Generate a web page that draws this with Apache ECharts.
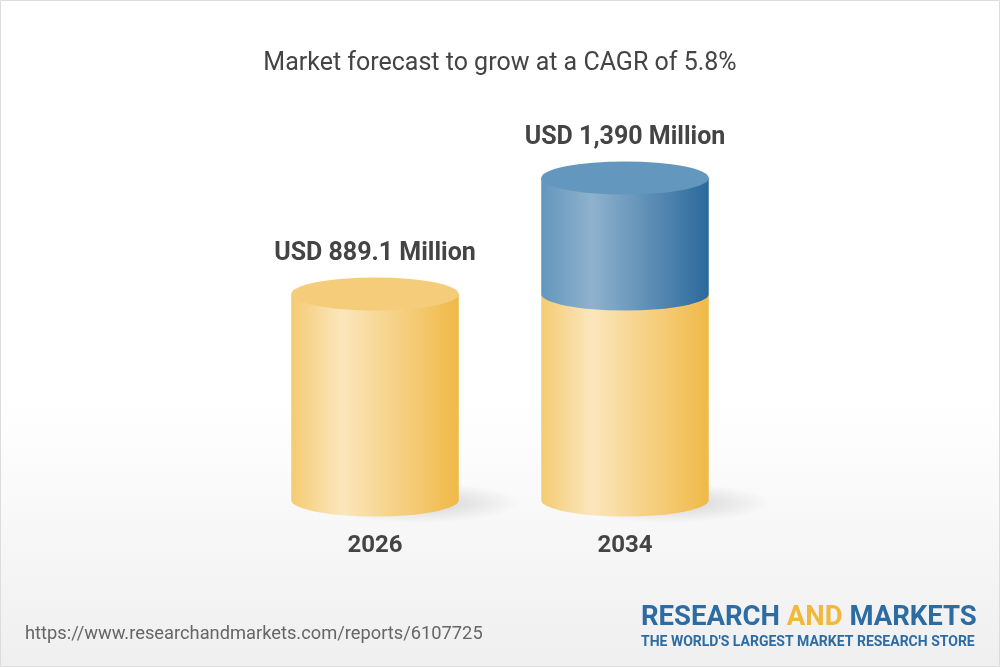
<!DOCTYPE html>
<html>
<head>
<meta charset="utf-8">
<script src="https://cdn.jsdelivr.net/npm/echarts@6/dist/echarts.min.js"></script>
<style>
  html, body { margin: 0; padding: 0; }
  #main { width: 1000px; height: 667px; }
</style>
</head>
<body>
<div id="main"></div>
<script>
// chart data
var years = ['2026', '2034'];
var baseValues = [889.1, 889.1];   // yellow part (2026 market size)
var totalValues = [889.1, 1390];   // full cylinder height
var valueLabels = ['USD 889.1 Million', 'USD 1,390 Million'];
var titleText = 'Market forecast to grow at a CAGR of 5.8%';
var sourceText = 'https://www.researchandmarkets.com/reports/6107725';

var myChart = echarts.init(document.getElementById('main'));

function hGrad(stops) {
    return new echarts.graphic.LinearGradient(0, 0, 1, 0, stops);
}
var yellowBody = [
    {offset: 0, color: '#f4cb74'},
    {offset: 0.3, color: '#fbe6bc'},
    {offset: 1, color: '#f0b947'}
];
var blueBody = [
    {offset: 0, color: '#6396bd'},
    {offset: 0.3, color: '#8fb2cd'},
    {offset: 1, color: '#2b699d'}
];

function bodyPath(xl, xr, yt, yb, rx, ry) {
    return 'M' + xl + ',' + yt + ' L' + xl + ',' + yb +
        ' A' + rx + ',' + ry + ' 0 0 0 ' + xr + ',' + yb +
        ' L' + xr + ',' + yt + ' Z';
}
function ellipsePath(cx, cy, rx, ry) {
    return 'M' + (cx - rx) + ',' + cy +
        ' A' + rx + ',' + ry + ' 0 1 0 ' + (cx + rx) + ',' + cy +
        ' A' + rx + ',' + ry + ' 0 1 0 ' + (cx - rx) + ',' + cy + ' Z';
}

function renderCylinder(params, api) {
    var idx = api.value(0);
    var base = api.value(1);
    var total = api.value(2);
    var p0 = api.coord([idx, 0]);
    var pb = api.coord([idx, base]);
    var pt = api.coord([idx, total]);
    var w = api.size([1, 0])[0] * 0.67;
    var rx = w / 2, ry = 16.5;
    var cx = p0[0], xl = cx - rx, xr = cx + rx;
    var children = [];

    // soft floor shadow (circle squashed into an ellipse)
    var sr = 100;
    children.push({
        type: 'circle',
        x: cx + 45, y: p0[1] + 3,
        scaleY: 0.2,
        shape: {cx: 0, cy: 0, r: sr},
        style: {
            fill: new echarts.graphic.RadialGradient(0.5, 0.5, 0.5, [
                {offset: 0, color: 'rgba(0,0,0,0.16)'},
                {offset: 0.55, color: 'rgba(0,0,0,0.07)'},
                {offset: 1, color: 'rgba(0,0,0,0)'}
            ])
        }
    });
    children.push({
        type: 'path',
        shape: {pathData: bodyPath(xl, xr, pb[1], p0[1], rx, ry)},
        style: {fill: hGrad(yellowBody)}
    });
    if (total > base) {
        children.push({
            type: 'path',
            shape: {pathData: bodyPath(xl, xr, pt[1], pb[1], rx, ry)},
            style: {fill: hGrad(blueBody)}
        });
        children.push({
            type: 'path',
            shape: {pathData: ellipsePath(cx, pt[1], rx, ry)},
            style: {fill: '#6497bd'}
        });
    } else {
        children.push({
            type: 'path',
            shape: {pathData: ellipsePath(cx, pt[1], rx, ry)},
            style: {fill: '#f5cd7a'}
        });
    }
    children.push({
        type: 'text',
        style: {
            x: cx, y: pt[1] - ry - 24,
            text: valueLabels[idx],
            fill: '#444',
            font: 'bold 25px Roboto',
            textAlign: 'center',
            textVerticalAlign: 'middle'
        }
    });
    return {type: 'group', children: children};
}

var seriesData = years.map(function (y, i) {
    return [i, baseValues[i], totalValues[i]];
});

option = {
    backgroundColor: '#ffffff',
    animation: false,
    graphic: [
        {
            type: 'rect', z: -10, silent: true,
            shape: {x: 0.5, y: 0.5, width: 999, height: 666},
            style: {
                fill: new echarts.graphic.LinearGradient(0, 0, 0, 1, [
                    {offset: 0, color: '#ffffff'},
                    {offset: 0.6, color: '#ffffff'},
                    {offset: 1, color: '#efefef'}
                ]),
                stroke: '#dcdcdc', lineWidth: 1
            }
        },
        {
            type: 'text', left: 25, top: 625,
            style: {text: sourceText, fill: '#666', font: '18.3px Roboto'}
        },
        {
            type: 'text', left: 641, top: 604,
            style: {
                text: '{b|RESEARCH }{y|AND}{b| MARKETS}',
                rich: {
                    b: {fill: '#2d6ca3', font: 'bold 27.5px Roboto'},
                    y: {fill: '#f0b83c', font: 'bold 27.5px Roboto'}
                }
            }
        },
        {
            type: 'text', left: 641, top: 635,
            style: {text: "THE WORLD'S LARGEST MARKET RESEARCH STORE", fill: '#2d6ca3', font: 'bold 14px Roboto'}
        }
    ],
    title: {
        text: titleText,
        left: 'center',
        top: 46,
        textStyle: {fontFamily: 'Roboto', fontSize: 25, fontWeight: 'normal', color: '#444'}
    },
    grid: {left: 250, right: 250, top: 83, bottom: 167},
    xAxis: {
        type: 'category',
        data: years,
        axisLine: {show: false},
        axisTick: {show: false},
        axisLabel: {
            margin: 34,
            color: '#444',
            fontFamily: 'Roboto',
            fontSize: 24,
            fontWeight: 'bold'
        }
    },
    yAxis: {
        type: 'value',
        min: 0,
        max: 1800,
        show: false,
        splitLine: {show: false}
    },
    series: [{
        type: 'custom',
        renderItem: renderCylinder,
        encode: {x: 0, y: [1, 2]},
        data: seriesData
    }]
};
myChart.setOption(option);
</script>
</body>
</html>
